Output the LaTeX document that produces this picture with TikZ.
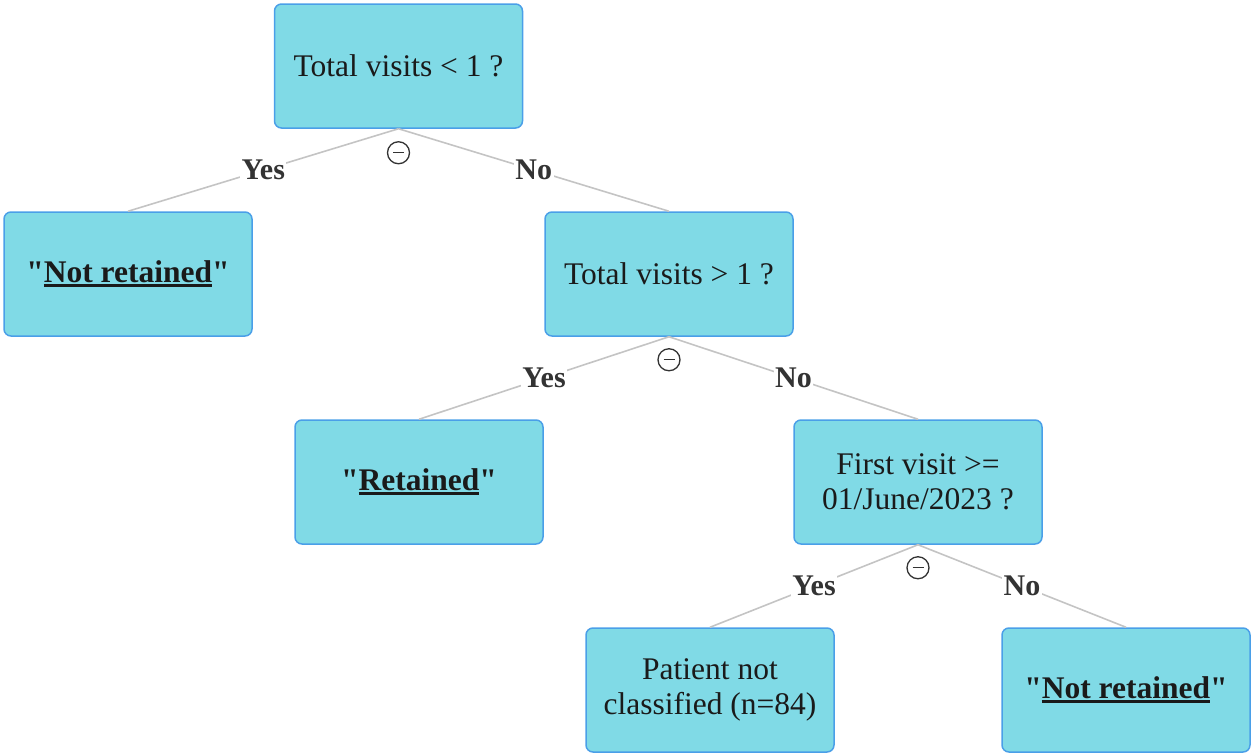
\documentclass[tikz,border=0pt]{standalone}
\usepackage{fontspec}
\newfontfamily\dfont{Liberation Serif}
\newcommand\myul[1]{\setbox0\hbox{#1}\rlap{\rule[-5pt]{\wd0}{3.2pt}}\box0}
\definecolor{boxfill}{HTML}{80DAE6}
\definecolor{boxline}{HTML}{4A9FE8}
\definecolor{edgegrey}{HTML}{C4C4C4}
\definecolor{txt}{HTML}{1A1A1A}
\definecolor{lab}{HTML}{333333}
\tikzset{
  box/.style={draw=boxline, fill=boxfill, line width=1.5pt, rounded corners=7pt,
    minimum width=248pt, minimum height=124pt, align=center, text=txt,
    font=\dfont\fontsize{31.5}{35}\selectfont, inner sep=0pt},
  edge/.style={draw=edgegrey, line width=1.6pt},
  lbl/.style={fill=white, inner sep=1.5pt, text=lab, font=\dfont\bfseries\fontsize{30}{32}\selectfont},
  circ/.style={circle, draw=lab, line width=1.3pt, minimum size=22pt, inner sep=0pt},
  circline/.style={draw=lab, line width=1.3pt}
}
\begin{document}
\begin{tikzpicture}[x=1pt,y=-1pt]
\useasboundingbox (0,0) rectangle (1251,755);
\node[box] (t1) at (398.5,66) {Total visits < 1 ?};
\node[box] (l1) at (128,274) {\bfseries "\myul{Not retained}"};
\node[box] (t2) at (669,274) {Total visits > 1 ?};
\node[box] (r2) at (419,482) {\bfseries "\myul{Retained}"};
\node[box] (t3) at (918,482) {First visit >=\\01/June/2023 ?};
\node[box] (p3) at (710,690) {Patient not\\classified (n=84)};
\node[box] (n3) at (1126,690) {\bfseries "\myul{Not retained}"};

\path[edge] (t1.south) -- (l1.north) node[lbl, midway] {Yes};
\path[edge] (t1.south) -- (t2.north) node[lbl, midway] {No};
\path[edge] (t2.south) -- (r2.north) node[lbl, midway] {Yes};
\path[edge] (t2.south) -- (t3.north) node[lbl, midway] {No};
\path[edge] (t3.south) -- (p3.north) node[lbl, midway] {Yes};
\path[edge] (t3.south) -- (n3.north) node[lbl, midway] {No};

\node[circ] (c1) at ([yshift=-24pt]t1.south) {};
\node[circ] (c2) at ([yshift=-23pt]t2.south) {};
\node[circ] (c3) at ([yshift=-23pt]t3.south) {};
\foreach \c in {c1,c2,c3}{
  \draw[circline] ([xshift=-5.5pt]\c.center) -- ([xshift=5.5pt]\c.center);
}
\end{tikzpicture}
\end{document}
